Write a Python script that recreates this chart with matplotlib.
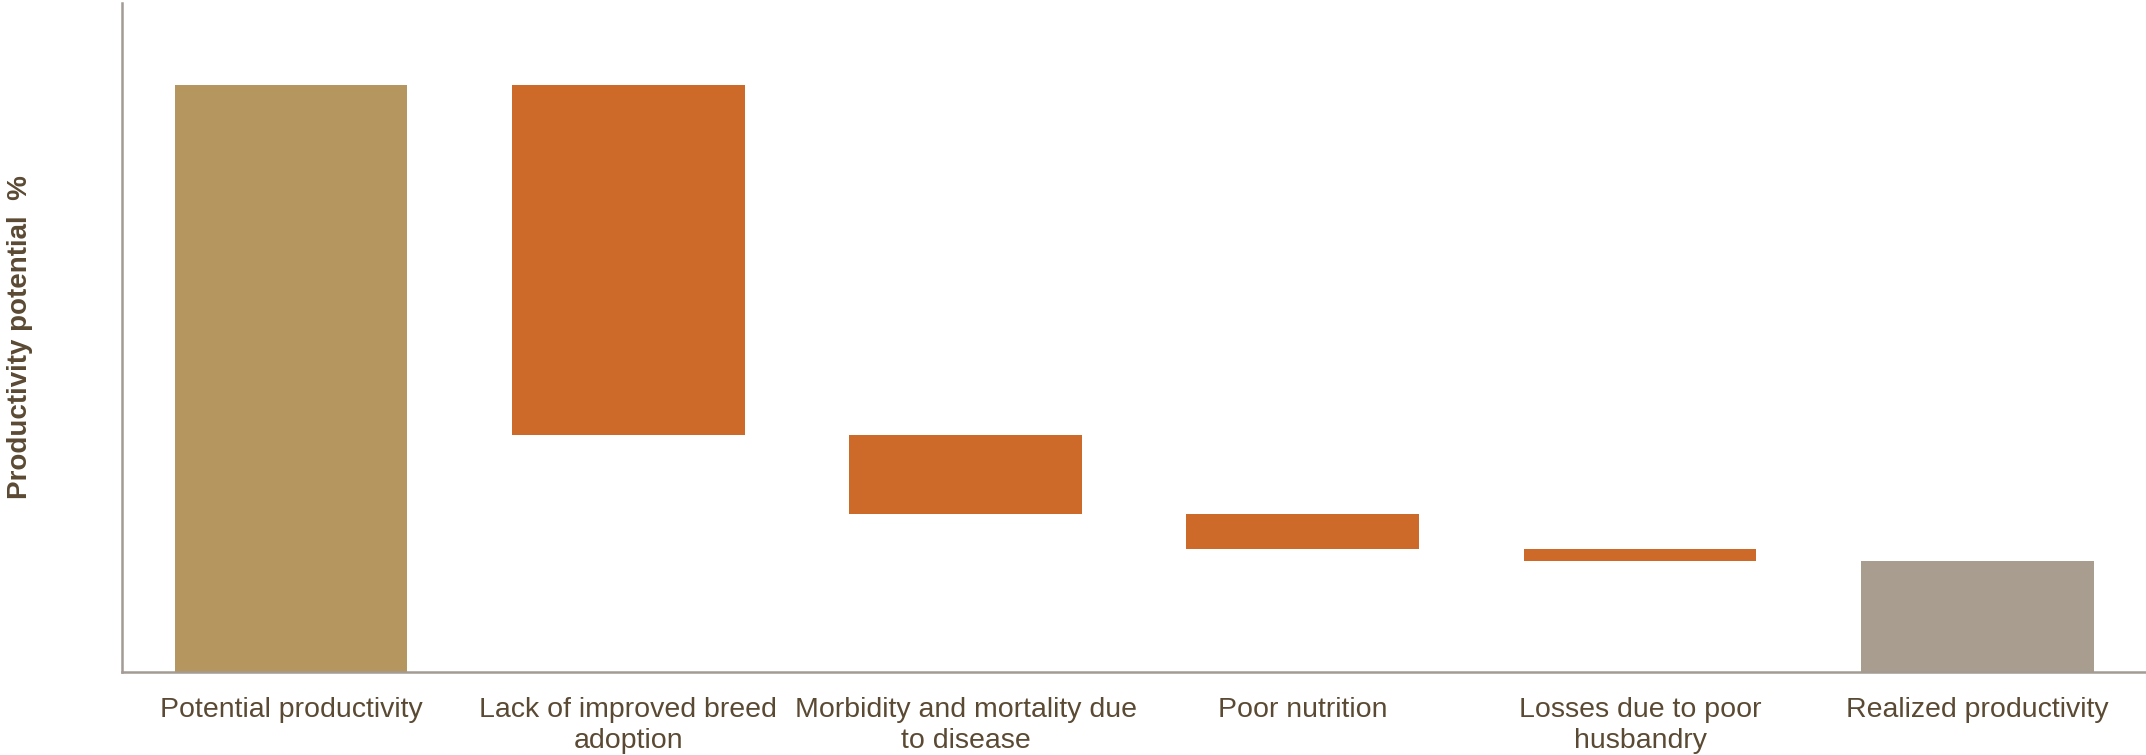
"""
Waterfall of productivity losses, from potential to realized productivity.
"""
import numpy as np
import matplotlib.pyplot as plt

categories = ["Potential productivity",
              "Lack of improved breed\nadoption",
              "Morbidity and mortality due\nto disease",
              "Poor nutrition",
              "Losses due to poor\nhusbandry",
              "Realized productivity"]
potential = 100.0
losses = [59.6, 13.5, 5.9, 2.1]   # % of potential
realized = potential - sum(losses)

text_col = "#5B4A33"
axis_col = "#A39B94"


def main():
    plt.rcParams['font.family'] = ['Liberation Sans', 'DejaVu Sans']

    # bottoms and heights of the floating bars
    tops = potential - np.cumsum([0] + losses[:-1])
    bottoms = [0] + list(tops - np.array(losses)) + [0]
    heights = [potential] + losses + [realized]
    colors = ["#B5965E"] + ["#CD6A2A"] * len(losses) + ["#A99D90"]

    fig = plt.figure(figsize=(21.46, 7.55), dpi=100)
    ax = fig.add_axes([0.057, 0.11, 0.943, 0.886])
    x = np.arange(len(categories))
    ax.bar(x, heights, bottom=bottoms, width=0.69, color=colors)

    ax.set_xlim(-0.5, 5.5)
    ax.set_ylim(0, 114.0)
    ax.set_xticks(x)
    ax.set_xticklabels(categories, fontsize=20.5, color=text_col, linespacing=1.25)
    ax.tick_params(axis='x', length=0, pad=18)
    ax.set_yticks([])
    ax.set_ylabel("Productivity potential  %", fontsize=20, fontweight='bold',
                  color=text_col, labelpad=64)

    for side in ['top', 'right']:
        ax.spines[side].set_visible(False)
    for side in ['left', 'bottom']:
        ax.spines[side].set_color(axis_col)
        ax.spines[side].set_linewidth(1.8)

    fig.savefig("out.png", dpi=100)


if __name__ == "__main__":
    main()
